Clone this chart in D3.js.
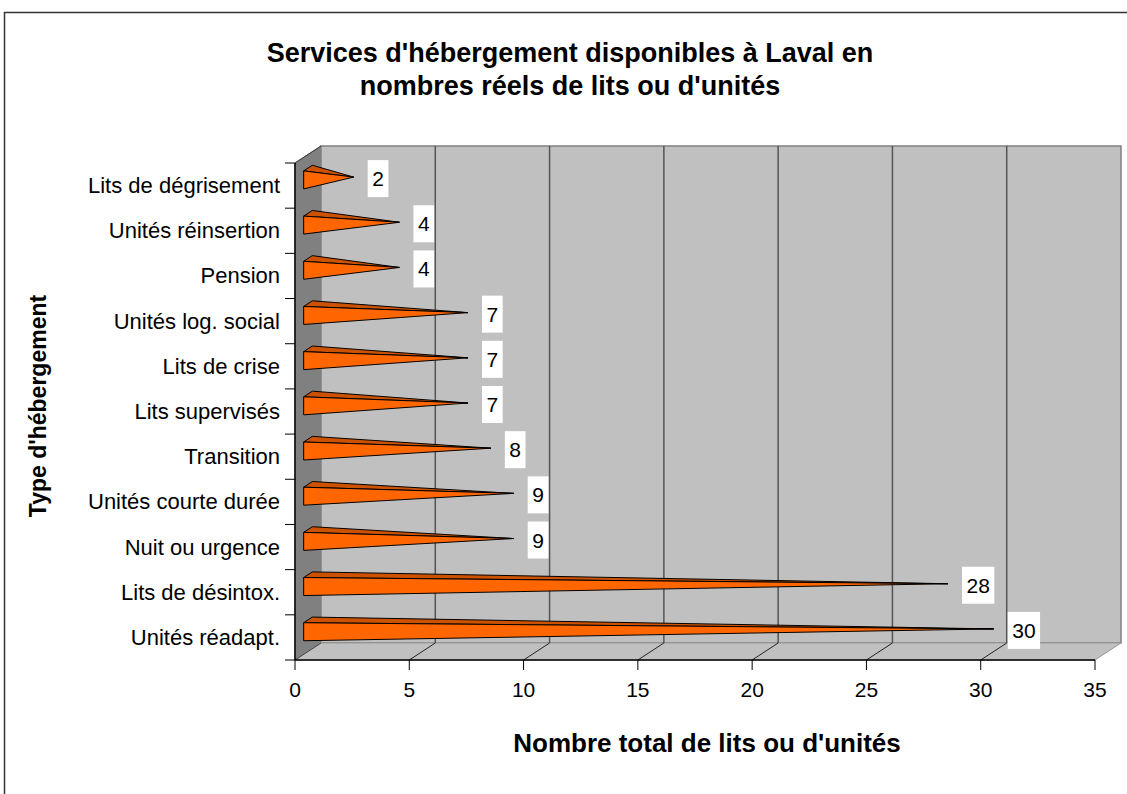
<!DOCTYPE html>
<html lang="fr">
<head>
    <meta charset="UTF-8">
    <title>Services d'hébergement disponibles à Laval</title>
    <script src="https://d3js.org/d3.v7.min.js"></script>
    <style>
        body { margin: 0; background: #fff; }
        text { font-family: "Liberation Sans", Arial, sans-serif; fill: #000; }
        .title { font-size: 27px; font-weight: bold; }
        .axis-title { font-weight: bold; }
        .cat { font-size: 22px; }
        .tick-label { font-size: 21px; }
        .val { font-size: 21px; }
    </style>
</head>
<body>
    <script>
        // categories, top to bottom as drawn
        const categories = [
            "Lits de dégrisement", "Unités réinsertion", "Pension", "Unités log. social",
            "Lits de crise", "Lits supervisés", "Transition", "Unités courte durée",
            "Nuit ou urgence", "Lits de désintox.", "Unités réadapt."
        ];
        const values = [2, 4, 4, 7, 7, 7, 8, 9, 9, 28, 30];
        const xTicks = [0, 5, 10, 15, 20, 25, 30, 35];
        const titleLines = ["Services d'hébergement disponibles à Laval en", "nombres réels de lits ou d'unités"];

        const width = 1127, height = 794;
        const depthX = 26, depthY = -17;   // 3D offset from the front plane to the back wall

        const svg = d3.select("body").append("svg")
            .attr("width", width)
            .attr("height", height);

        // outer chart border
        svg.append("rect")
            .attr("x", 4.5).attr("y", 12.5)
            .attr("width", 1140).attr("height", 800)
            .attr("fill", "none").attr("stroke", "#333").attr("stroke-width", 1.5);

        const x = d3.scaleLinear().domain([0, 35]).range([295, 1095]);
        const y = d3.scaleBand().domain(categories).range([163, 660]);

        const yTop = y.range()[0], yBot = y.range()[1];
        const x0 = x(0), x1 = x(35);

        // projection of a point at depth z (0 = front, 1 = back)
        const P = (px, py, z) => [px + depthX * z, py + depthY * z];
        const pts = arr => arr.map(p => p.join(",")).join(" ");

        // left wall
        svg.append("polygon")
            .attr("points", pts([P(x0, yTop, 0), P(x0, yTop, 1), P(x0, yBot, 1), P(x0, yBot, 0)]))
            .attr("fill", "#808080").attr("stroke", "#808080");

        // back wall
        svg.append("polygon")
            .attr("points", pts([P(x0, yTop, 1), P(x1, yTop, 1), P(x1, yBot, 1), P(x0, yBot, 1)]))
            .attr("fill", "#c0c0c0").attr("stroke", "#808080").attr("stroke-width", 1.5);

        // floor
        svg.append("polygon")
            .attr("points", pts([P(x0, yBot, 0), P(x0, yBot, 1), P(x1, yBot, 1), P(x1, yBot, 0)]))
            .attr("fill", "#c0c0c0").attr("stroke", "#999").attr("stroke-width", 1);

        // grid lines on back wall and floor
        const gridTicks = xTicks.filter(t => t > 0 && t < 35);
        svg.append("g").selectAll("line")
            .data(gridTicks)
            .join("line")
            .attr("x1", d => P(x(d), yTop, 1)[0]).attr("y1", d => P(x(d), yTop, 1)[1])
            .attr("x2", d => P(x(d), yBot, 1)[0]).attr("y2", d => P(x(d), yBot, 1)[1])
            .attr("stroke", "#555").attr("stroke-width", 1.5);
        svg.append("g").selectAll("line")
            .data(gridTicks)
            .join("line")
            .attr("x1", d => x(d)).attr("y1", yBot)
            .attr("x2", d => P(x(d), yBot, 1)[0]).attr("y2", d => P(x(d), yBot, 1)[1])
            .attr("stroke", "#222").attr("stroke-width", 1);
        svg.append("line")
            .attr("x1", x0).attr("y1", yBot)
            .attr("x2", P(x0, yBot, 1)[0]).attr("y2", P(x0, yBot, 1)[1])
            .attr("stroke", "#444");
        svg.append("line")
            .attr("x1", x0).attr("y1", yTop)
            .attr("x2", P(x0, yTop, 1)[0]).attr("y2", P(x0, yTop, 1)[1])
            .attr("stroke", "#333");

        // pyramids: square base at value 0, tip at the value, mid depth
        const half = 9, zFront = 1 / 3, zBack = 2 / 3;
        const bars = svg.append("g").selectAll("g")
            .data(categories.map((c, i) => ({ c, v: values[i] })))
            .join("g");

        const geom = d => {
            const cy = y(d.c) + y.bandwidth() / 2;
            return {
                ft: P(x(0), cy - half, zFront),
                fb: P(x(0), cy + half, zFront),
                bt: P(x(0), cy - half, zBack),
                tip: P(x(d.v), cy, 0.5)
            };
        };

        bars.append("polygon")
            .attr("points", d => { const g = geom(d); return pts([g.ft, g.bt, g.tip]); })
            .attr("fill", "#cc5200").attr("stroke", "#000").attr("stroke-width", 1).attr("stroke-linejoin", "round");
        bars.append("polygon")
            .attr("points", d => { const g = geom(d); return pts([g.ft, g.fb, g.tip]); })
            .attr("fill", "#ff6600").attr("stroke", "#000").attr("stroke-width", 1).attr("stroke-linejoin", "round");

        // value labels in white boxes
        bars.each(function(d) {
            const g = geom(d);
            const sel = d3.select(this);
            const t = sel.append("text")
                .attr("class", "val")
                .attr("text-anchor", "middle")
                .text(d.v);
            const w = t.node().getComputedTextLength() + 9;
            const bx = g.tip[0] + 14, by = g.tip[1] - 17;
            sel.insert("rect", "text")
                .attr("x", bx).attr("y", by)
                .attr("width", w).attr("height", 37)
                .attr("fill", "#fff");
            t.attr("x", bx + w / 2).attr("y", by + 26);
        });

        // category axis
        const yAxis = svg.append("g");
        yAxis.append("line")
            .attr("x1", x0).attr("x2", x0).attr("y1", yTop).attr("y2", yBot)
            .attr("stroke", "#000").attr("stroke-width", 1.5);
        const bounds = categories.map(c => y(c)).concat([yBot]);
        yAxis.selectAll(".tk").data(bounds).join("line")
            .attr("class", "tk")
            .attr("x1", x0 - 10).attr("x2", x0)
            .attr("y1", d => d).attr("y2", d => d)
            .attr("stroke", "#000");
        yAxis.selectAll(".cat").data(categories).join("text")
            .attr("class", "cat")
            .attr("text-anchor", "end")
            .attr("x", 280)
            .attr("y", d => y(d) + y.bandwidth() / 2 + 7.5)
            .text(d => d);

        // value axis
        const xAxis = svg.append("g");
        xAxis.append("line")
            .attr("x1", x0).attr("x2", x1).attr("y1", yBot).attr("y2", yBot)
            .attr("stroke", "#000").attr("stroke-width", 1.5);
        xAxis.selectAll(".tk").data(xTicks).join("line")
            .attr("class", "tk")
            .attr("x1", d => x(d)).attr("x2", d => x(d))
            .attr("y1", yBot).attr("y2", yBot + 10)
            .attr("stroke", "#000");
        xAxis.selectAll(".tick-label").data(xTicks).join("text")
            .attr("class", "tick-label")
            .attr("text-anchor", "middle")
            .attr("x", d => x(d))
            .attr("y", 697)
            .text(d => d);

        // titles
        svg.append("g").selectAll("text")
            .data(titleLines)
            .join("text")
            .attr("class", "title")
            .attr("text-anchor", "middle")
            .attr("x", 570)
            .attr("y", (d, i) => 62 + i * 33)
            .text(d => d);

        svg.append("text")
            .attr("class", "axis-title")
            .attr("text-anchor", "middle")
            .attr("x", 707).attr("y", 752)
            .style("font-size", "26px")
            .text("Nombre total de lits ou d'unités");

        svg.append("text")
            .attr("class", "axis-title")
            .attr("text-anchor", "middle")
            .attr("transform", "translate(46,406) rotate(-90)")
            .style("font-size", "23px")
            .text("Type d'hébergement");
    </script>
</body>
</html>
